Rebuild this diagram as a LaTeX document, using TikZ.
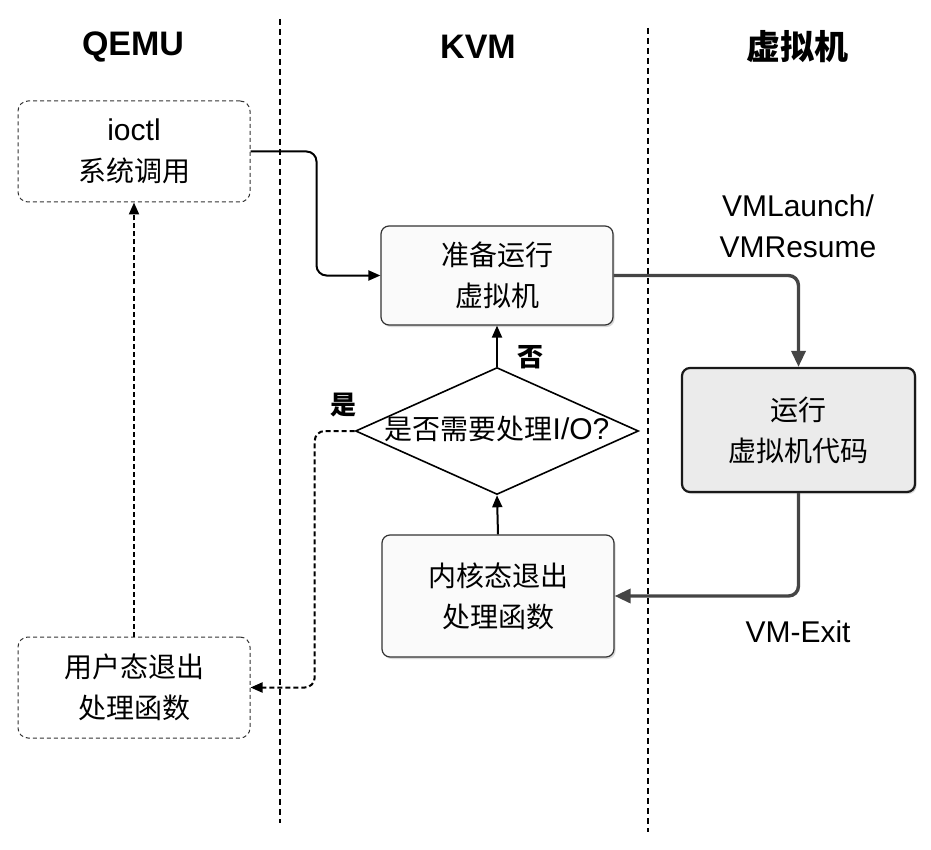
\documentclass[tikz,border=0pt]{standalone}
\usepackage{fontspec}
\setmainfont{Liberation Sans}
\newfontfamily\cjk{Noto Sans CJK SC}
\usetikzlibrary{arrows.meta,shapes.geometric,shadows}

\newcommand{\zh}[1]{{\cjk\fontsize{14}{20.5}\selectfont #1}}
\newcommand{\zhb}[1]{{\cjk\bfseries\fontsize{13}{16}\selectfont #1}}

\tikzset{
  lane/.style={draw=black, line width=0.8pt, dash pattern=on 3pt off 2pt},
  head/.style={font=\fontsize{17}{20}\selectfont\bfseries},
  txt/.style={font=\fontsize{15}{20.5}\selectfont, align=center},
  stepbox/.style={txt, draw=black!80, line width=0.6pt, rounded corners=4pt, fill=black!2,
    minimum width=116pt, drop shadow={shadow xshift=0.8pt, shadow yshift=-1pt, opacity=0.3}},
  userbox/.style={txt, draw=black!80, line width=0.5pt, dash pattern=on 2pt off 1.5pt,
    rounded corners=5pt, minimum width=116pt, minimum height=50.5pt},
  vmbox/.style={txt, draw=black!90, line width=1.1pt, rounded corners=4pt, fill=black!8,
    minimum width=116.5pt, minimum height=62pt,
    drop shadow={shadow xshift=0.8pt, shadow yshift=-1pt, opacity=0.3}},
  ask/.style={txt, diamond, aspect=2.23, draw=black, line width=0.8pt, fill=white,
    inner sep=0pt, text height=10pt, text depth=2pt,
    minimum width=141.5pt, minimum height=63.5pt},
  thin/.style={line width=1pt, rounded corners=5pt, -{Triangle[length=6pt,width=5pt]}},
  thick/.style={draw=black!73, line width=1.7pt, rounded corners=5pt,
    -{Triangle[length=8pt,width=7pt]}},
  dashline/.style={dash pattern=on 2.5pt off 1.5pt}
}

\begin{document}
\begin{tikzpicture}[x=0.5pt,y=-0.5pt]

\useasboundingbox (0,0) rectangle (931,850);

% lanes
\node [head] (qemu) at (133,47) {QEMU};
\node [head] (kvm) at (478,47) {KVM};
\node [head] (guest) at (797,47) {\cjk 虚拟机};
\draw [lane] (280,19) -- (280,823);
\draw [lane] (648,28) -- (648,832);

% QEMU side
\node [userbox] (ioctl) at (134,151.5) {ioctl\\\zh{系统调用}};
\node [userbox] (uexit) at (134,687.5) {\zh{用户态退出}\\\zh{处理函数}};

% KVM side
\node [stepbox, minimum height=49.5pt] (prep) at (497,275.5) {\zh{准备运行}\\\zh{虚拟机}};
\node [ask] (need) at (497,431) {\zh{是否需要处理}I/O?};
\node [stepbox, minimum height=61pt] (kexit) at (498,596) {\zh{内核态退出}\\\zh{处理函数}};

% guest side
\node [vmbox] (run) at (798.5,430) {\zh{运行}\\\zh{虚拟机代码}};

\draw [thin] (ioctl.east) -- ++(66,0) |- (prep.west);
\draw [thick] (prep.east) -| (run.north);
\node [txt] (launch) at (798,226) {VMLaunch/\\VMResume};
\draw [thick] (run.south) |- (kexit.east);
\node [txt] (vmexit) at (798,632) {VM-Exit};

\draw [thin] (kexit.north) -- (need.south);
\draw [thin] (need.north) -- (prep.south);
\node (no) at (530,357) {\zhb{否}};

\draw [thin, dashline] (need.west) -- ++(-40,0) |- (uexit.east);
\node (yes) at (343,405) {\zhb{是}};
\draw [thin, dashline] (uexit.north) -- (ioctl.south);

\end{tikzpicture}
\end{document}
